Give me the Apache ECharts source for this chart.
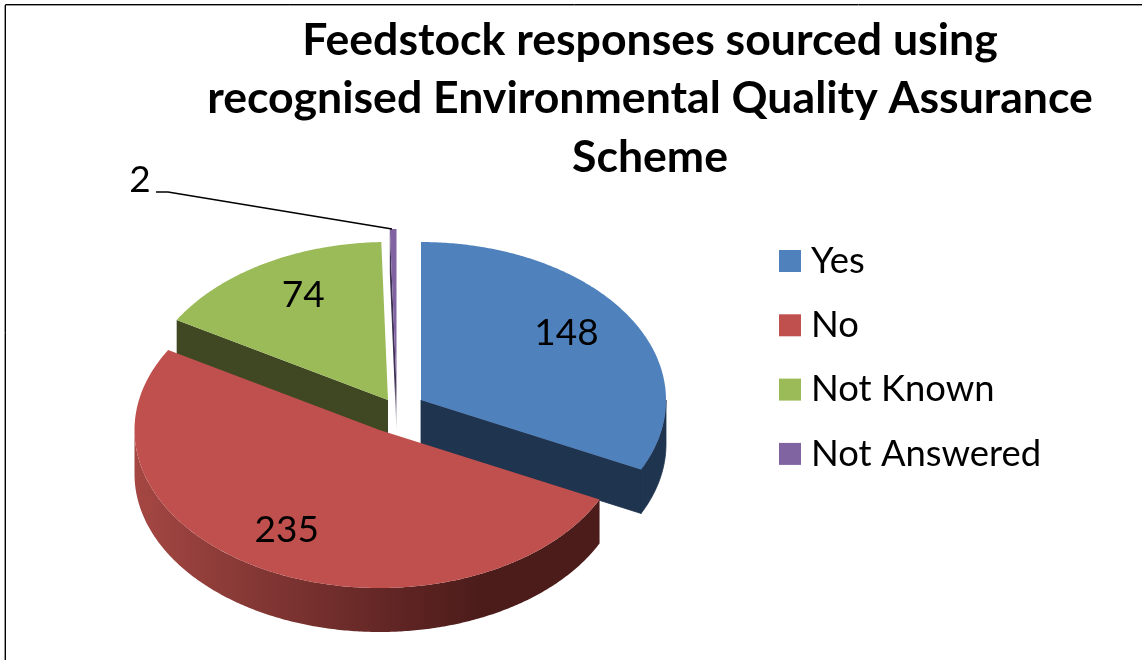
<!DOCTYPE html>
<html>
<head>
<meta charset="utf-8">
<title>Feedstock responses</title>
<script src="https://cdn.jsdelivr.net/npm/echarts@6/dist/echarts.min.js"></script>
<style>
html, body { margin: 0; padding: 0; background: #fff; }
#main { width: 1142px; height: 660px; }
</style>
</head>
<body>
<div id="main"></div>
<script>
var titleLines = ['Feedstock responses sourced using', 'recognised Environmental Quality Assurance', 'Scheme'];
var categories = ['Yes', 'No', 'Not Known', 'Not Answered'];
var values = [148, 235, 74, 2];

var topColors = ['#4f81bd', '#c0504d', '#9bbb59', '#8064a2'];
var wallColors = ['#1f344e', '#4b1c1a', '#404823', '#3f3153'];
var drawOrder = [3, 4, 1, 2];
// how far each slice is pulled out of the pie, in px
var explode = [[27, -12], [-14.5, 18], [-6, -12], [2.5, -25]];
// where the value label sits, as a share of the radius
var labelShare = [[0.7, 0.8], [0.8, 0.72], [0.68, 0.77], null];

var FONT = 'Lato, "Open Sans", sans-serif';
var cx = 394, cy = 412, rx = 245, ry = 158, depth = 44;

var total = values.reduce(function (a, b) { return a + b; }, 0);

function startAngle(i) {
    var sum = 0;
    for (var k = 0; k < i; k++) sum += values[k];
    return sum / total * Math.PI * 2;
}

// clockwise from 12 o'clock on the flattened ellipse
function rim(c, a, dy) {
    return [c[0] + rx * Math.sin(a), c[1] - ry * Math.cos(a) + (dy || 0)];
}

function arc(c, a0, a1, dy) {
    var pts = [];
    var n = Math.max(2, Math.ceil((a1 - a0) / 0.01));
    for (var i = 0; i <= n; i++) pts.push(rim(c, a0 + (a1 - a0) * i / n, dy));
    return pts;
}

function poly(points, fill, seam) {
    // thin stroke in the same colour closes the hairline between wall pieces
    var style = seam ? { fill: fill, stroke: fill, lineWidth: 0.8 } : { fill: fill };
    return { type: 'polygon', shape: { points: points }, style: style, silent: true };
}

function cutFace(c, a, fill, seam) {
    var p = rim(c, a);
    return poly([c, p, [p[0], p[1] + depth], [c[0], c[1] + depth]], fill, seam);
}

function wallFill(i) {
    if (i === 1) {
        return new echarts.graphic.LinearGradient(0, 0, 1, 0, [
            { offset: 0, color: '#a54743' },
            { offset: 0.25, color: '#853835' },
            { offset: 0.6, color: '#5c2322' },
            { offset: 0.75, color: '#4b1c1a' },
            { offset: 1, color: '#4b1c1a' }
        ]);
    }
    if (i === 3) {
        return new echarts.graphic.LinearGradient(0, 0, 0, 1, [
            { offset: 0, color: '#3f3153' },
            { offset: 0.75, color: '#3f3153' },
            { offset: 1, color: '#d5d2da' }
        ]);
    }
    return wallColors[i];
}

function sliceItem(i) {
    return function (params, api) {
        var a0 = startAngle(i);
        var a1 = a0 + api.value(0) / total * Math.PI * 2;
        var c = [cx + explode[i][0], cy + explode[i][1]];
        var seam = i === 0;
        var children = [];
        // cut faces first, only those turned to the viewer
        if (Math.sin(a0) < 0) children.push(cutFace(c, a0, wallFill(i), seam));
        if (Math.sin(a1) > 0) children.push(cutFace(c, a1, wallFill(i), seam));
        // outer wall, the part facing front
        var w0 = Math.max(a0, Math.PI / 2), w1 = Math.min(a1, Math.PI * 1.5);
        if (w1 > w0) {
            var top = arc(c, w0, w1);
            var bottom = arc(c, w0, w1, depth).reverse();
            children.push(poly(top.concat(bottom), wallFill(i), seam));
        }
        // top face
        children.push(poly([c].concat(arc(c, a0, a1)), topColors[i]));
        if (labelShare[i]) {
            var mid = (a0 + a1) / 2;
            children.push({
                type: 'text',
                silent: true,
                style: {
                    x: c[0] + rx * labelShare[i][0] * Math.sin(mid),
                    y: c[1] - ry * labelShare[i][1] * Math.cos(mid),
                    text: String(api.value(0)),
                    font: '37px ' + FONT,
                    fill: '#000',
                    align: 'center',
                    verticalAlign: 'middle'
                }
            });
        }
        return { type: 'group', children: children };
    };
}

var series = categories.map(function (name, i) {
    return {
        name: name,
        type: 'custom',
        coordinateSystem: 'none',
        z: drawOrder[i],
        itemStyle: { color: topColors[i] },
        renderItem: sliceItem(i),
        data: [[values[i]]]
    };
});

var chart = echarts.init(document.getElementById('main'));
chart.setOption({
    animation: false,
    backgroundColor: '#fff',
    title: {
        text: titleLines.join('\n'),
        left: 645,
        top: 6,
        textAlign: 'center',
        textStyle: { fontFamily: FONT, fontSize: 44.6, fontWeight: 'bold', color: '#000', lineHeight: 58.5 }
    },
    legend: {
        orient: 'vertical',
        left: 779,
        top: 240,
        padding: 0,
        icon: 'rect',
        itemWidth: 22,
        itemHeight: 22,
        itemGap: 22.3,
        data: categories,
        selectedMode: false,
        textStyle: { fontFamily: FONT, fontSize: 36.4, color: '#000', lineHeight: 42, padding: [0, 0, 0, 5] }
    },
    graphic: [
        { type: 'rect', silent: true, z: -1, shape: { x: 4.5, y: 5.5, width: 1160, height: 680 }, style: { fill: 'none', stroke: '#999', lineWidth: 1 } },
        { type: 'rect', silent: true, z: -1, shape: { x: 5.5, y: 4.5, width: 1160, height: 680 }, style: { fill: 'none', stroke: '#000', lineWidth: 1 } },
        { type: 'polyline', silent: true, z: 9, shape: { points: [[156, 192], [168, 192], [392, 229]] }, style: { fill: 'none', stroke: '#000', lineWidth: 1.5 } },
        { type: 'text', silent: true, z: 9, style: { x: 140, y: 180, text: String(values[3]), font: '37px ' + FONT, fill: '#000', align: 'center', verticalAlign: 'middle' } }
    ],
    series: series
});
</script>
</body>
</html>
